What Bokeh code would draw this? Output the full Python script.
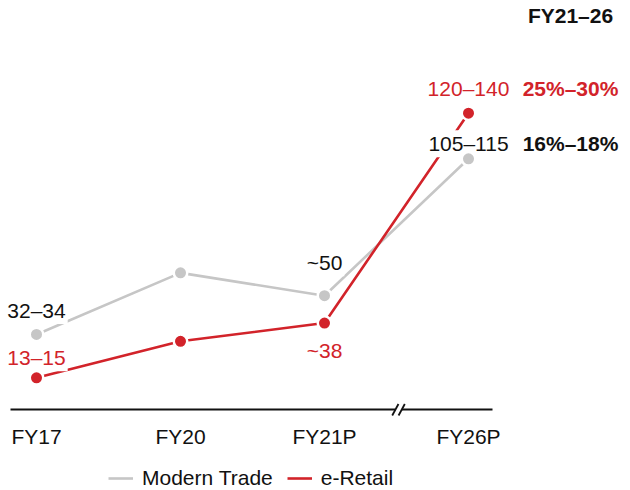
from bokeh.plotting import figure
from bokeh.models import (Range1d, LinearAxis, FixedTicker, Legend, LegendItem,
                          ColumnDataSource, Label)
from bokeh.embed import file_html
from bokeh.resources import INLINE

# Market size by year (INR '000 crore, midpoints of the stated ranges)
categories = ["FY17", "FY20", "FY21P", "FY26P"]
modern_trade = [33, 60, 50, 110]
e_retail = [14, 30, 38, 130]
mt_labels = ["32–34", "", "~50", "105–115"]
er_labels = ["13–15", "", "~38", "120–140"]
cagr_header = "FY21–26"
cagr_labels = ["16%–18%", "25%–30%"]

RED = "#d2232a"
GREY = "#c6c6c6"
INK = "#111111"
FONT = "Liberation Sans"

xs = list(range(len(categories)))

p = figure(width=630, height=490, output_backend="svg", toolbar_location=None,
           x_axis_location=None, y_axis_location=None, min_border=0,
           x_range=Range1d(-0.25, 4.125), y_range=Range1d(-35.4, 179.4))
p.outline_line_color = None
p.grid.visible = False
p.background_fill_color = "white"
p.border_fill_color = "white"

# x axis sits on the zero line, with a break before the forecast year
xaxis = LinearAxis(fixed_location=0, ticker=FixedTicker(ticks=xs),
                   major_label_overrides={i: c for i, c in enumerate(categories)},
                   bounds=(-0.18, 3.17))
xaxis.axis_line_width = 2
xaxis.axis_line_color = INK
xaxis.major_tick_line_color = None
xaxis.minor_tick_line_color = None
xaxis.major_label_standoff = 9
xaxis.major_label_text_font = FONT
xaxis.major_label_text_font_size = "21px"
xaxis.major_label_text_color = INK
p.add_layout(xaxis, "below")

p.scatter([2.514], [0], marker="square", size=7, fill_color="white",
          line_color=None, level="overlay")
p.scatter([2.492, 2.536], [0, 0], marker="dash", size=13, angle=1.07,
          line_color=INK, line_width=1.8, level="overlay")

src = ColumnDataSource(dict(x=xs, mt=modern_trade, er=e_retail,
                            mt_lab=mt_labels, er_lab=er_labels,
                            mt_dy=[-24, 0, -33, -15], er_dy=[-20, 0, 27, -25]))

mt_line = p.line("x", "mt", source=src, line_color=GREY, line_width=2.6)
er_line = p.line("x", "er", source=src, line_color=RED, line_width=2.6)

# value labels sit on a white box so lines pass behind them
p.text("x", "mt", text="mt_lab", source=src, y_offset="mt_dy",
       text_align="center", text_baseline="middle",
       text_font=dict(value=FONT), text_font_size="21px", text_color=INK,
       background_fill_color="white", padding=2)
p.text("x", "er", text="er_lab", source=src, y_offset="er_dy",
       text_align="center", text_baseline="middle",
       text_font=dict(value=FONT), text_font_size="21px", text_color=RED,
       background_fill_color="white", padding=2)

p.scatter("x", "mt", source=src, size=13.5, fill_color=GREY,
          line_color="white", line_width=2.5)
p.scatter("x", "er", source=src, size=13.5, fill_color=RED,
          line_color="white", line_width=2.5)

# growth column beside the forecast year
cagr_src = ColumnDataSource(dict(x=[xs[-1], xs[-1]],
                                 y=[modern_trade[-1], e_retail[-1]],
                                 t=cagr_labels, c=[INK, RED],
                                 dy=[-15, -25]))
p.text("x", "y", text="t", source=cagr_src, x_offset=102, y_offset="dy",
       text_align="center", text_baseline="middle", text_color="c",
       text_font=dict(value=FONT), text_font_size="21px",
       text_font_style="bold")
p.add_layout(Label(x=xs[-1], x_offset=102, y=475, y_units="screen",
                   text=cagr_header, text_align="center", text_baseline="middle",
                   text_font=FONT, text_font_size="21px", text_font_style="bold",
                   text_color=INK))

legend = Legend(items=[LegendItem(label="Modern Trade", renderers=[mt_line]),
                       LegendItem(label="e-Retail", renderers=[er_line])],
                orientation="horizontal", location=(108, 0),
                label_text_font=FONT, label_text_font_size="21px",
                label_text_color=INK, glyph_width=25, glyph_height=20,
                label_standoff=9, spacing=14, padding=0, margin=0,
                border_line_color=None, background_fill_alpha=0)
p.add_layout(legend)

open("out.html", "w").write(file_html(p, INLINE))
